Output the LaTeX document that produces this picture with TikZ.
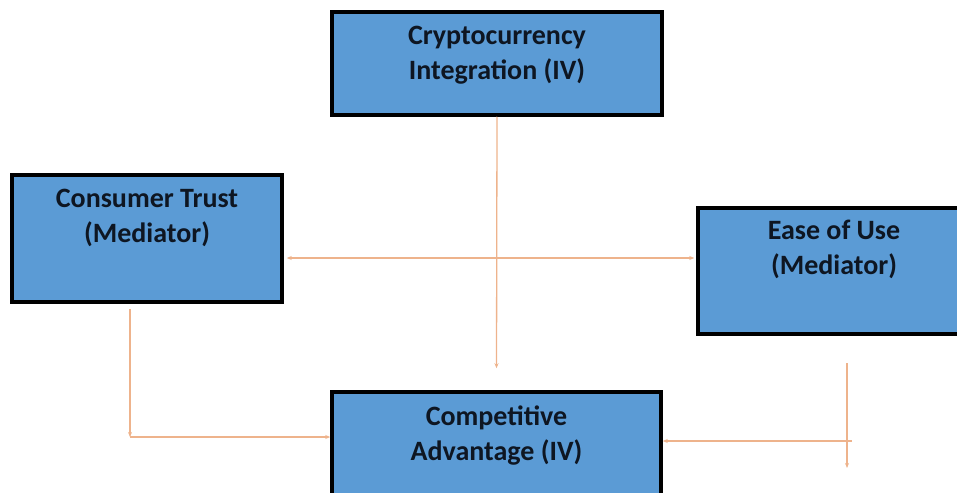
\documentclass[tikz,border=0pt]{standalone}
\usepackage{fontspec}
\setmainfont{Carlito}
\usetikzlibrary{arrows.meta}
\definecolor{boxblue}{HTML}{5B9BD5}
\definecolor{linkorange}{HTML}{EEB38C}
\definecolor{textnavy}{HTML}{0E1622}
\begin{document}
\begin{tikzpicture}[x=1pt,y=-1pt,
    >={Stealth[length=5pt,width=4pt]},
    box/.style={draw=black, line width=3.5pt, fill=boxblue, inner sep=0pt},
    lbl/.style={align=center, font=\bfseries\fontsize{28}{35}\selectfont, text=textnavy, inner sep=0pt, anchor=north},
    link/.style={draw=linkorange, line width=1.3pt, ->}]
   \useasboundingbox (0,0) rectangle (957,492);
   \clip (0,0) rectangle (957,492);
   \node[box, minimum width=330pt, minimum height=103pt,
         label={[lbl,yshift=-16pt]north:{Cryptocurrency\\Integration (IV)}}] (crypto) at (497,63.5) {};
   \node[box, minimum width=270pt, minimum height=127pt,
         label={[lbl,yshift=-16pt]north:{Consumer Trust\\(Mediator)}}] (trust) at (147,238.5) {};
   \node[box, minimum width=272pt, minimum height=126pt,
         label={[lbl,yshift=-14pt]north:{Ease of Use\\(Mediator)}}] (ease) at (834,271) {};
   \node[box, minimum width=329pt, minimum height=103pt,
         label={[lbl,yshift=-15pt]north:{Competitive\\Advantage (IV)}}] (compet) at (496.5,443.5) {};
   \coordinate (hub) at (497,258);
   \coordinate (tturn) at (130,437);
   \coordinate (etop) at (847,363);
   \coordinate (eend) at (847,468);
   \coordinate (eturn) at (852,441);
   \draw[link] (crypto.south) -- ([yshift=22pt]compet.north);
   \draw[link, <->, shorten <=3pt, shorten >=2pt] (trust.east |- hub) -- (ease.west |- hub);
   \draw[link] ([yshift=-5pt]trust.south -| tturn) -- (tturn);
   \draw[link] (tturn) -- (compet.west |- tturn);
   \draw[link] (etop) -- (eend);
   \draw[link] (eturn) -- (compet.east |- eturn);
\end{tikzpicture}
\end{document}
